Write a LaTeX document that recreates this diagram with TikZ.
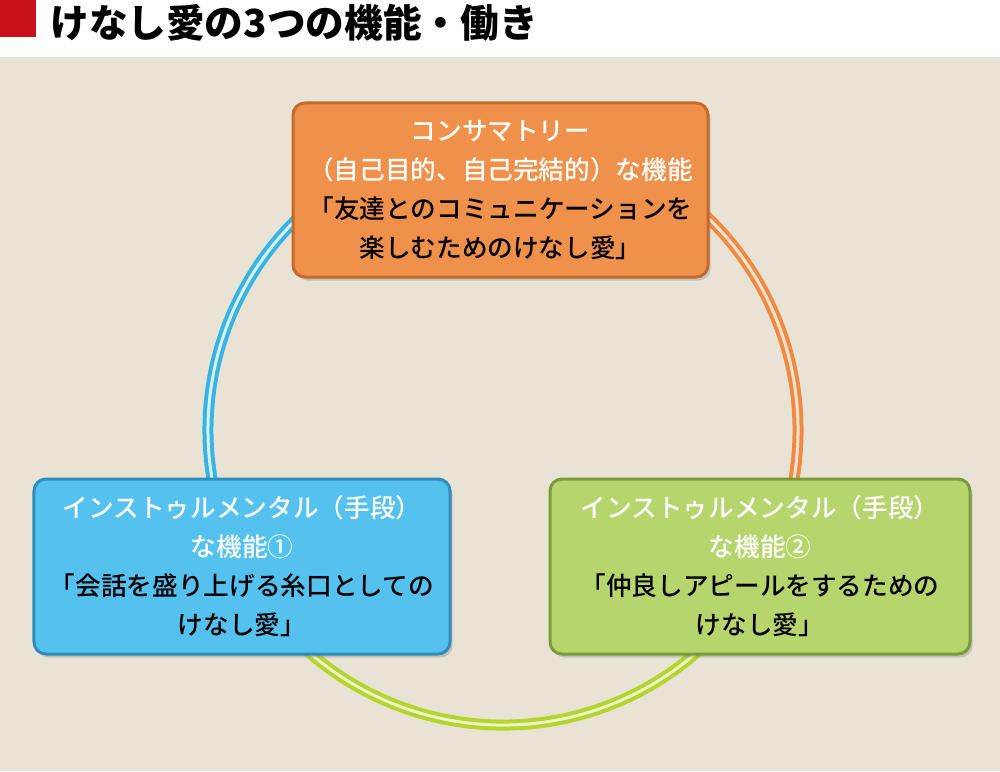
\documentclass[tikz,border=0pt]{standalone}
\usepackage{fontspec}
\newfontfamily\jpfont[UprightFont=* Medium, BoldFont=* Black]{Noto Sans CJK JP}
\usetikzlibrary{shadows}

\definecolor{haikei}{HTML}{E9E3D5}
\definecolor{akaku}{HTML}{C8101A}
\definecolor{daidai}{HTML}{F0914B}
\definecolor{daidaiwaku}{HTML}{C66A2C}
\definecolor{mizu}{HTML}{55C1EF}
\definecolor{mizuwaku}{HTML}{2F8DBE}
\definecolor{midori}{HTML}{B6D56C}
\definecolor{midoriwaku}{HTML}{7C9A3A}
\definecolor{wamizu}{HTML}{38B4E2}
\definecolor{wadaidai}{HTML}{F08A42}
\definecolor{wamidori}{HTML}{B4D62C}

\begin{document}
\begin{tikzpicture}[x=0.2mm,y=0.2mm,
    kinobox/.style={rounded corners=2.4mm, line width=0.6mm, align=center,
      inner sep=0pt, minimum height=35mm,
      font=\jpfont\fontsize{14.6}{22.2}\selectfont,
      drop shadow={opacity=0.35, shadow xshift=0.5mm, shadow yshift=-0.7mm}},
    wa/.style={line width=0.8mm, double distance=0.6mm}]
  \useasboundingbox (0,0) rectangle (1000,771);

  % haikei to midashi
  \fill[haikei] (0,0) rectangle (1000,714);
  \fill[white] (0,714) rectangle (1000,771);
  \fill[akaku] (0,734) rectangle (36,771);
  \node[anchor=west, inner sep=0pt, font=\jpfont\bfseries\fontsize{22}{24}\selectfont]
    (midashi) at (50,748) {けなし愛の3つの機能・働き};

  % wa
  \coordinate (chushin) at (503,341);
  \draw[wa, draw=wamizu, double=wamizu!20] ([shift={(120:295)}]chushin) arc[start angle=120, end angle=200, radius=295];
  \draw[wa, draw=wamidori, double=wamidori!25] ([shift={(200:295)}]chushin) arc[start angle=200, end angle=340, radius=295];
  \draw[wa, draw=wadaidai, double=wadaidai!25] ([shift={(-20:295)}]chushin) arc[start angle=-20, end angle=60, radius=295];

  % hako
  \node[kinobox, fill=daidai, draw=daidaiwaku, minimum width=83mm, minimum height=34.8mm]
    (consum) at (500.5,581) {\textcolor{white}{コンサマトリー}\\\textcolor{white}{（自己目的、自己完結的）な機能}\\「友達とのコミュニケーションを\\楽しむためのけなし愛」};
  \node[kinobox, fill=mizu, draw=mizuwaku, minimum width=83.2mm]
    (instr1) at (242,204.5) {\textcolor{white}{インストゥルメンタル（手段）}\\\textcolor{white}{な機能①}\\「会話を盛り上げる糸口としての\\けなし愛」};
  \node[kinobox, fill=midori, draw=midoriwaku, minimum width=84mm]
    (instr2) at (760,204.5) {\textcolor{white}{インストゥルメンタル（手段）}\\\textcolor{white}{な機能②}\\「仲良しアピールをするための\\けなし愛」};
\end{tikzpicture}
\end{document}
